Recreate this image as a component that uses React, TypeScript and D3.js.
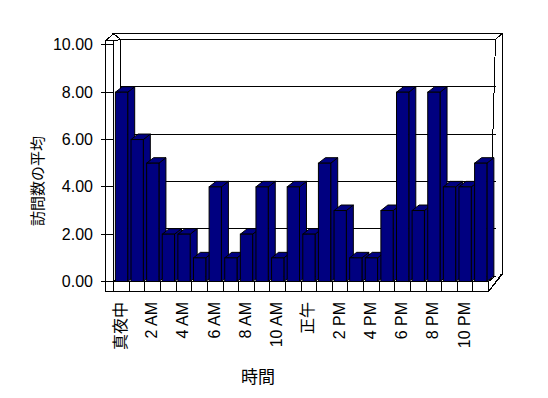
import * as d3 from 'd3';

// data
const hours = [
  '真夜中', '1 AM', '2 AM', '3 AM', '4 AM', '5 AM', '6 AM', '7 AM', '8 AM', '9 AM', '10 AM', '11 AM',
  '正午', '1 PM', '2 PM', '3 PM', '4 PM', '5 PM', '6 PM', '7 PM', '8 PM', '9 PM', '10 PM', '11 PM',
];
const visits = [8, 6, 5, 2, 2, 1, 4, 1, 2, 4, 1, 4, 2, 5, 3, 1, 1, 3, 8, 3, 8, 4, 4, 5];
const yTicks = [0, 2, 4, 6, 8, 10];
const yTitle = '訪問数の平均';
const xTitle = '時間';

const W = 548;
const H = 398;
const FONT = '"Liberation Sans", Arial, "Noto Sans CJK JP", sans-serif';
const NAVY = '#000080';

export default function App() {
  // front plane
  const x = d3.scaleBand<number>().domain(d3.range(hours.length)).range([113.7, 488.5]);
  const y = d3.scaleLinear().domain([0, 10]).range([281.5, 44.9]);
  const dx = 7;
  const dy = -5.5; // depth of plot (front -> back wall)
  const tx = 7;
  const ty = -6; // thickness of walls / floor

  const left = x.range()[0];
  const right = x.range()[1];
  const y0 = y(0);
  const yTop = y(10);
  const wallL = 105;
  const floorB = 291.5;

  const bw = 12.3;
  const bOff = 1.7;

  const line = (x1: number, y1: number, x2: number, y2: number, k: string) => (
    <line key={k} x1={x1} y1={y1} x2={x2} y2={y2} stroke="#000" strokeWidth={1} />
  );

  return (
    <svg width={W} height={H} style={{ position: 'absolute', left: 0, top: 0, background: '#fff' }}
      fontFamily={FONT}>
      <g shapeRendering="crispEdges">
        {/* back wall */}
        <polygon
          points={`${left + dx},${yTop + dy} ${right + dx},${yTop + dy} ${right + dx + tx},${yTop + dy + ty} ${wallL + 8},${yTop + dy + ty}`}
          fill="#fff" stroke="#000" />
        <rect x={left + dx} y={yTop + dy} width={right - left} height={y0 - yTop} fill="#fff" stroke="#000" />
        <polygon
          points={`${right + dx},${yTop + dy} ${right + dx + tx},${yTop + dy + ty} ${right + dx + tx},${y0 + dy + ty + 4} ${right},${floorB}`}
          fill="#fff" stroke="#000" />
        {yTicks.filter((v) => v > 0 && v < 10).map((v) =>
          line(left + dx, y(v) + dy, right + dx, y(v) + dy, `g${v}`))}

        {/* floor */}
        <polygon points={`${left},${y0} ${right},${y0} ${right + dx},${y0 + dy} ${left + dx},${y0 + dy}`}
          fill="#fff" stroke="#000" />
        <rect x={left} y={y0} width={right - left} height={floorB - y0} fill="#fff" stroke="#000" />
        {x.domain().map((i) => line(x(i)!, y0, x(i)!, floorB, `c${i}`))}
        {line(right, floorB, right + dx + tx - 1, y0 + dy + ty + 4, 'fr')}

        {/* left wall */}
        <polygon points={`${wallL},${yTop - 4} ${left},${yTop - 4} ${left + dx},${yTop + dy} ${left},${yTop + dy + ty + 0.5}`}
          fill="#fff" stroke="#000" />
        <rect x={wallL} y={yTop - 4} width={left - wallL} height={floorB - yTop + 4} fill="#fff" stroke="#000" />
        {yTicks.map((v) => line(101, y(v), left, y(v), `t${v}`))}
        {line(left + dx, yTop + dy, left + dx, y0 + dy, 'lw')}
      </g>

      {/* bars */}
      {visits.map((v, i) => {
        const x0 = x(i)! + bOff;
        const x1 = x0 + bw;
        const yt = y(v);
        return (
          <g key={i} stroke="#000" strokeWidth={1} fill={NAVY} strokeLinejoin="miter">
            <polygon points={`${x1},${yt} ${x1 + dx},${yt + dy} ${x1 + dx},${y0 + dy} ${x1},${y0}`} />
            <polygon points={`${x0},${yt} ${x1},${yt} ${x1 + dx},${yt + dy} ${x0 + dx},${yt + dy}`} />
            <rect x={x0} y={yt} width={bw} height={y0 - yt} />
          </g>
        );
      })}

      {/* y tick labels */}
      {yTicks.map((v) => (
        <text key={v} x={93} y={y(v)} textAnchor="end" dominantBaseline="central" fontSize={16}>
          {v.toFixed(2)}
        </text>
      ))}

      {/* x labels */}
      {hours.map((h, i) =>
        i % 2 === 0 ? (
          <text key={h} transform={`translate(${x(i)! + x.bandwidth() / 2 - 1},302) rotate(-90)`}
            textAnchor="end" dominantBaseline="central" fontSize={16}>
            {h}
          </text>
        ) : null)}

      <text transform="translate(37,181) rotate(-90)" textAnchor="middle" dominantBaseline="central" fontSize={15}>
        {yTitle}
      </text>
      <text x={258} y={377} textAnchor="middle" dominantBaseline="central" fontSize={17}>
        {xTitle}
      </text>
    </svg>
  );
}
